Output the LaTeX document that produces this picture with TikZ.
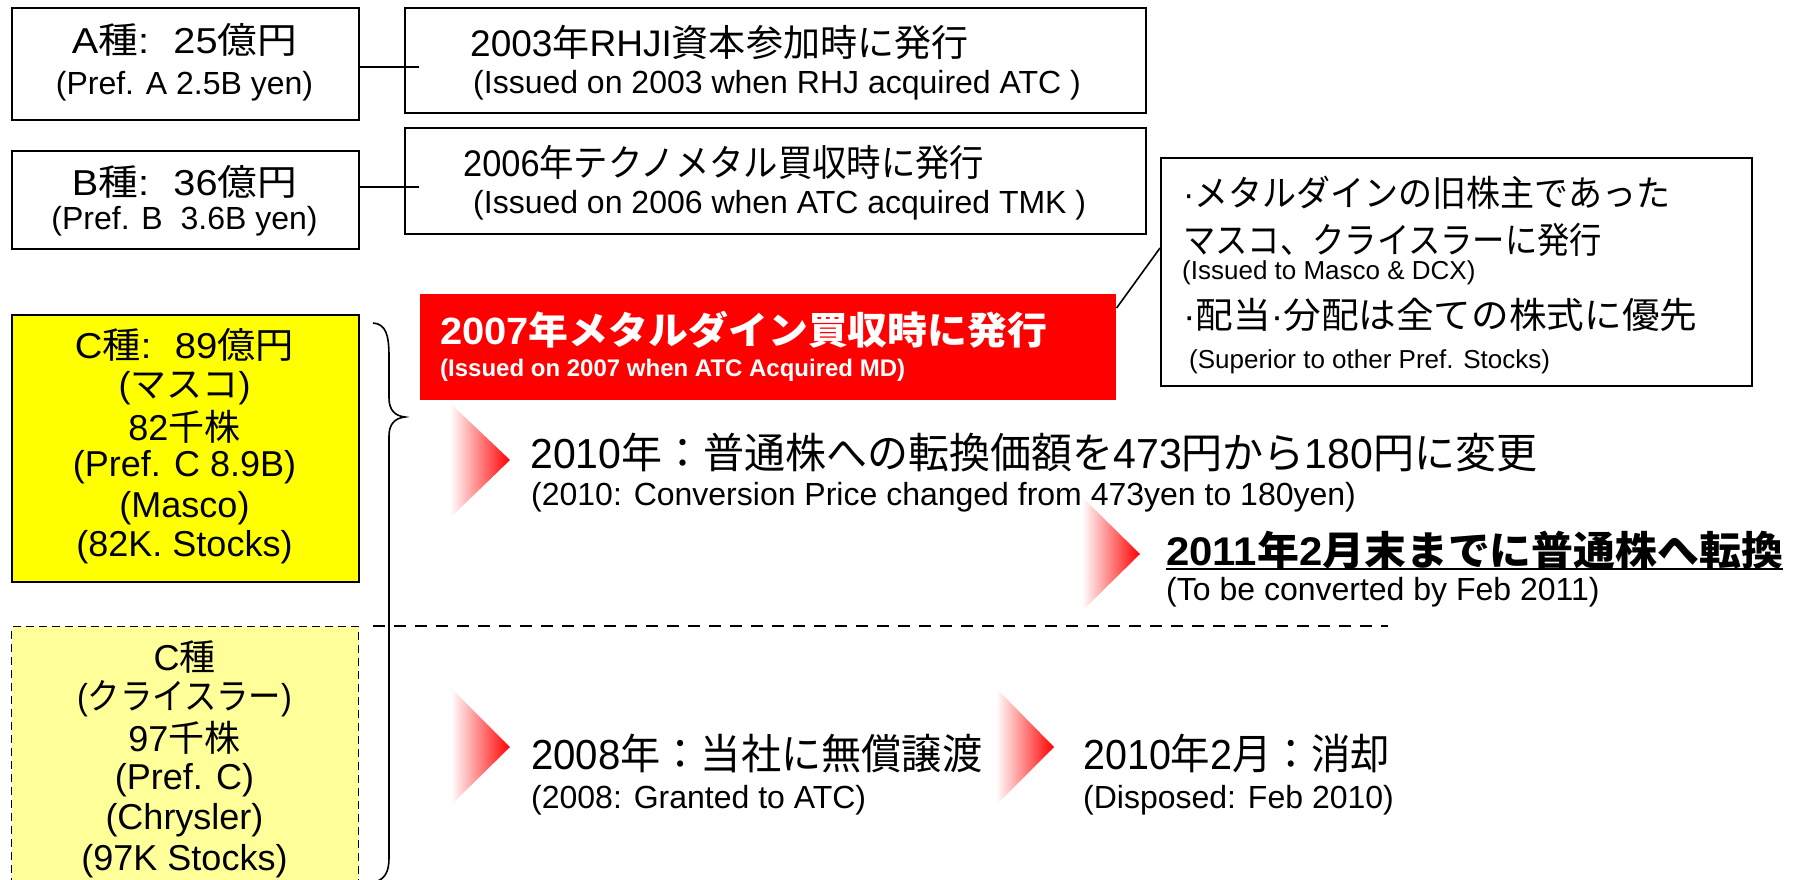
\documentclass[tikz,border=0pt]{standalone}
\usepackage{fontspec}
\usepackage{graphicx}
\setmainfont{Liberation Sans}
\newfontfamily\jpf{Noto Sans CJK JP}
\newcommand\J[1]{{\jpf #1}}
\newcommand\fitw[2]{\resizebox{#1}{\height}{#2}}
\usetikzlibrary{calc}
\definecolor{cyel}{HTML}{FFFF00}
\definecolor{lyel}{HTML}{FFFF99}
\definecolor{cred}{HTML}{FF0000}
\begin{document}
\begin{tikzpicture}[x=1pt,y=-1pt,
  box/.style={draw=black, line width=1.6pt, inner sep=0pt, anchor=north west},
  lt/.style={inner sep=0pt, anchor=west},
  ct/.style={inner sep=0pt, anchor=center},
  conn/.style={line width=1.6pt},
  sep/.style={line width=2pt, dash pattern=on 12pt off 9pt},
  chev/.style={left color=white, right color=cred},
  f42/.style={font=\fontsize{42}{48}\selectfont},
  f40b/.style={font=\fontsize{40}{46}\selectfont\bfseries},
  f38b/.style={font=\fontsize{38}{44}\selectfont\bfseries},
  f37/.style={font=\fontsize{37}{42}\selectfont},
  f36/.style={font=\fontsize{36}{40}\selectfont},
  f32/.style={font=\fontsize{32}{38}\selectfont},
  f26/.style={font=\fontsize{26}{30}\selectfont},
  f24b/.style={font=\fontsize{24}{28}\selectfont\bfseries},
]
\useasboundingbox (0,0) rectangle (1801,880);
\fill[white] (0,0) rectangle (1801,880);

% ---- boxes ----
\node[box, minimum width=347pt, minimum height=112pt] (Abox) at (11,7) {};
\node[box, minimum width=347pt, minimum height=98pt] (Bbox) at (11,150) {};
\node[box, minimum width=741pt, minimum height=105pt] (b2003) at (404,7) {};
\node[box, minimum width=741pt, minimum height=106pt] (b2006) at (404,127) {};
\node[box, minimum width=591pt, minimum height=228pt] (Call) at (1160,157) {};
\node[box, draw=none, fill=cred, minimum width=696pt, minimum height=106pt] (Red) at (419,293) {};
\node[box, fill=cyel, minimum width=347pt, minimum height=267pt] (Cbox) at (11,314) {};
\node[box, fill=lyel, line width=1.4pt, dash pattern=on 8pt off 5pt, minimum width=347pt, minimum height=290pt] (Dbox) at (11,626) {};

% ---- connectors ----
\draw[conn] (Abox.east |- 0,67) -- (b2003.west |- 0,67) -- +(15,0);
\draw[conn] (Bbox.east |- 0,187) -- (b2006.west |- 0,187) -- +(15,0);
\draw[conn] ([yshift=-15pt]Red.north east) -- ([yshift=-91pt]Call.north west);

% ---- A / B texts ----
\node[ct,f36] (A1) at (184.5,40) {\fitw{225pt}{A\J{種}:\hspace{22pt}25\J{億円}}};
\node[ct,f32] (A2) at (184.5,86) {(Pref. A 2.5B yen)};
\node[ct,f36] (B1) at (184.5,182) {\fitw{225pt}{B\J{種}:\hspace{22pt}36\J{億円}}};
\node[ct,f32] (B2) at (184.5,221) {(Pref. B\ \ 3.6B yen)};

% ---- 2003 / 2006 ----
\node[lt,f37] (t2003a) at (470,42) {\fitw{498pt}{2003\J{年}RHJI\J{資本参加時に発行}}};
\node[lt,f32] (t2003b) at (473,85) {(Issued on 2003 when RHJ acquired ATC )};
\node[lt,f37] (t2006a) at (463,162) {\fitw{521pt}{2006\J{年テクノメタル買収時に発行}}};
\node[lt,f32] (t2006b) at (473,205) {(Issued on 2006 when ATC acquired TMK )};

% ---- callout ----
\node[lt,f36] (c1) at (1183,193) {\fitw{487pt}{·\J{メタルダインの旧株主であった}}};
\node[lt,f36] (c2) at (1183,240) {\fitw{419pt}{\J{マスコ、クライスラーに発行}}};
\node[lt,f26] (c3) at (1182,273) {(Issued to Masco \& DCX)};
\node[lt,f36] (c4) at (1183,315) {\fitw{514pt}{·\J{配当}·\J{分配は全ての株式に優先}}};
\node[lt,f26] (c5) at (1189,362) {(Superior to other Pref. Stocks)};

% ---- red box text ----
\node[lt,f38b,text=white] (r1) at (440,330) {\fitw{607pt}{2007\J{年メタルダイン買収時に発行}}};
\node[lt,f24b,text=white] (r2) at (440,370) {(Issued on 2007 when ATC Acquired MD)};

% ---- C box (Masco) ----
\node[ct,f36] (C1) at (184.5,345) {\fitw{219pt}{C\J{種}:\hspace{22pt}89\J{億円}}};
\node[ct,f36] (C2) at (184.5,388) {(\J{マスコ})};
\node[ct,f36] (C3) at (184.5,427) {82\J{千株}};
\node[ct,f36] (C4) at (184.5,467) {(Pref. C 8.9B)};
\node[ct,f36] (C5) at (184.5,508) {(Masco)};
\node[ct,f36] (C6) at (184.5,547) {(82K. Stocks)};

% ---- C box (Chrysler) ----
\node[ct,f36] (D1) at (184.5,657) {C\J{種}};
\node[ct,f36] (D2) at (184.5,699) {\fitw{215pt}{(\J{クライスラー})}};
\node[ct,f36] (D3) at (184.5,738) {97\J{千株}};
\node[ct,f36] (D4) at (184.5,780) {(Pref. C)};
\node[ct,f36] (D5) at (184.5,820) {(Chrysler)};
\node[ct,f36] (D6) at (184.5,861) {(97K Stocks)};

% ---- brace ----
\draw[conn] (373,323) .. controls (386,324) and (389,335) .. (389,357) -- (389,398)
  .. controls (389,410) and (395,416) .. (405,417)
  .. controls (395,418) and (389,424) .. (389,436) -- (389,858)
  .. controls (389,872) and (385,880) .. (372,883);

% ---- timeline ----
\shade[chev] (450,403) -- (510,460) -- (450,518) -- cycle;
\node[lt,f42] (T1) at (530,453) {\fitw{1007pt}{2010\J{年：普通株への転換価額を}473\J{円から}180\J{円に変更}}};
\node[lt,f32] (T2) at (531,497) {(2010: Conversion Price changed from 473yen to 180yen)};

\shade[chev] (1082,497) -- (1140,554) -- (1082,611) -- cycle;
\node[lt,f40b] (T3) at (1166,550) {\fitw{617pt}{2011\J{年}2\J{月末までに普通株へ転換}}};
\draw[line width=2.5pt] (T3.west |- 0,569) -- (T3.east |- 0,569);
\node[lt,f32] (T4) at (1166,592) {(To be converted by Feb 2011)};

\draw[sep] (373,626) -- (1388,626);

\shade[chev] (451,688) -- (510,747) -- (451,805) -- cycle;
\node[lt,f42] (T5) at (531,753) {\fitw{451pt}{2008\J{年：当社に無償譲渡}}};
\node[lt,f32] (T6) at (531,800) {(2008: Granted to ATC)};

\shade[chev] (996,688) -- (1054,747) -- (996,805) -- cycle;
\node[lt,f42] (T7) at (1083,753) {\fitw{307pt}{2010\J{年}2\J{月：消却}}};
\node[lt,f32] (T8) at (1083,800) {(Disposed: Feb 2010)};
\end{tikzpicture}
\end{document}
